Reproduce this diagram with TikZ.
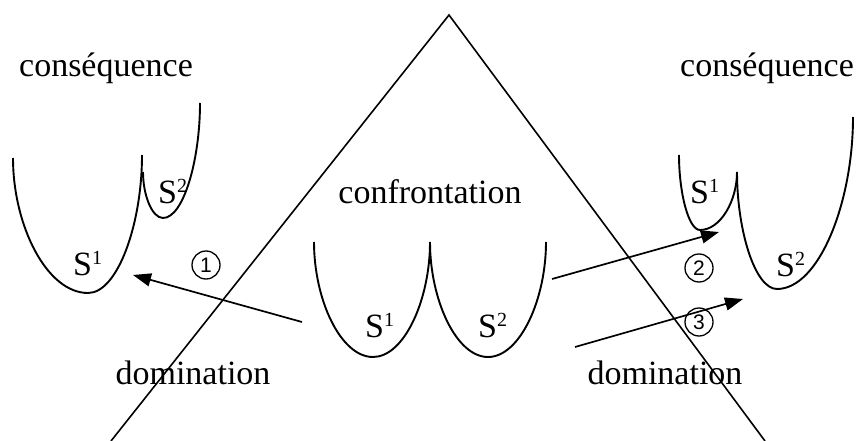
\documentclass[tikz,border=0pt]{standalone}
\usepackage{fontspec}
\setmainfont{Liberation Serif}
\newfontfamily\circfont{Liberation Sans}
\usetikzlibrary{arrows.meta,calc}

% superscript index on S
\newcommand{\Sidx}[1]{S\raisebox{11pt}{\fontsize{20}{20}\selectfont #1}}
% U-shaped curve: top left, bottom, top right
\newcommand{\ucurve}[3]{%
  \draw[ucurve] (#1) .. controls ($(#1)!0.5!(#1|-#2)$) and ($(#2)!0.55!(#1|-#2)$) .. (#2)
    .. controls ($(#2)!0.55!(#3|-#2)$) and ($(#3)!0.5!(#3|-#2)$) .. (#3);}

\begin{document}
\begin{tikzpicture}[x=1pt,y=-1pt,
    word/.style={inner sep=0pt,font=\fontsize{34}{40}\selectfont},
    slabel/.style={anchor=base west,inner sep=0pt,font=\fontsize{34}{40}\selectfont},
    num/.style={draw,circle,line width=1.3pt,minimum size=28pt,inner sep=0pt,font=\circfont\fontsize{21}{21}\selectfont},
    ucurve/.style={line width=1.9pt},
    tri/.style={line width=1.6pt},
    arr/.style={-{Triangle[length=18pt,width=13pt]},line width=1.7pt}
  ]
  \useasboundingbox (0,0) rectangle (861,441);

  % triangle
  \coordinate (apex) at (449,15);
  \coordinate (triL) at (111,441);
  \coordinate (triR) at (765,441);
  \draw[tri] (triL) -- (apex) -- (triR);

  % texts
  \node[word] (conL) at (106,68) {conséquence};
  \node[word] (conR) at (767,68) {conséquence};
  \node[word] (confr) at (430,192) {confrontation};
  \node[word] (domL) at (193,373) {domination};
  \node[word] (domR) at (665,373) {domination};

  % left : consequence
  \coordinate (la) at (13,158);  \coordinate (lb) at (88,293);  \coordinate (lc) at (142,155);
  \coordinate (ld) at (143,172); \coordinate (le) at (163,218); \coordinate (lf) at (200,103);
  \ucurve{la}{lb}{lc}
  \ucurve{ld}{le}{lf}
  \node[slabel] (sL1) at (73,275) {\Sidx{1}};
  \node[slabel] (sL2) at (158,203) {\Sidx{2}};

  % centre : confrontation
  \coordinate (ca) at (314,242); \coordinate (cb) at (373,357); \coordinate (cc) at (430,242);
  \coordinate (cd) at (488,357); \coordinate (ce) at (546,242);
  \ucurve{ca}{cb}{cc}
  \ucurve{cc}{cd}{ce}
  \node[slabel] (sC1) at (365,337) {\Sidx{1}};
  \node[slabel] (sC2) at (478,337) {\Sidx{2}};

  % right : consequence
  \coordinate (ra) at (679,155); \coordinate (rb) at (700,230); \coordinate (rc) at (737,172);
  \coordinate (rd) at (777,289); \coordinate (re) at (853,117);
  \ucurve{ra}{rb}{rc}
  \ucurve{rc}{rd}{re}
  \node[slabel] (sR1) at (690,203) {\Sidx{1}};
  \node[slabel] (sR2) at (776,276) {\Sidx{2}};

  % arrows
  \coordinate (a1s) at (302,322); \coordinate (a1e) at (133,275);
  \coordinate (a2s) at (552,279); \coordinate (a2e) at (719,232);
  \coordinate (a3s) at (575,347); \coordinate (a3e) at (743,299);
  \draw[arr] (a1s) -- (a1e);
  \draw[arr] (a2s) -- (a2e);
  \draw[arr] (a3s) -- (a3e);
  \node[num] (n1) at (206,265) {1};
  \node[num] (n2) at (699,268) {2};
  \node[num] (n3) at (699,322) {3};
\end{tikzpicture}
\end{document}
